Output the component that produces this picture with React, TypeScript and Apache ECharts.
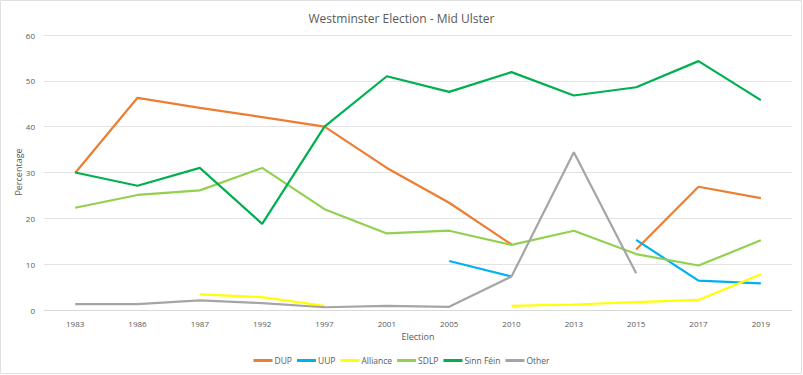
import React, { useEffect, useRef } from "react";
import * as echarts from "echarts";

const years = ["1983", "1986", "1987", "1992", "1997", "2001", "2005", "2010", "2013", "2015", "2017", "2019"];
const dup = [29.9, 46.3, 44.1, 42.1, 40.0, 31.0, 23.4, 14.3, null, 13.2, 26.9, 24.4];
const uup = [null, null, null, null, null, null, 10.7, 7.3, null, 15.3, 6.4, 5.8];
const alliance = [null, null, 3.4, 2.8, 0.9, null, null, 0.9, 1.2, 1.7, 2.2, 7.8];
const sdlp = [22.3, 25.1, 26.1, 31.0, 22.0, 16.7, 17.3, 14.2, 17.3, 12.2, 9.7, 15.2];
const sinnFein = [30.0, 27.1, 31.0, 18.8, 40.0, 51.0, 47.6, 51.9, 46.8, 48.6, 54.3, 45.8];
const other = [1.3, 1.3, 2.1, 1.5, 0.6, 0.9, 0.7, 7.3, 34.4, 8.0, null, null];

const seriesDefs = [
  { name: "DUP", data: dup, color: "#ED7D31" },
  { name: "UUP", data: uup, color: "#00B0F0" },
  { name: "Alliance", data: alliance, color: "#FFFF00" },
  { name: "SDLP", data: sdlp, color: "#92D050" },
  { name: "Sinn Féin", data: sinnFein, color: "#00B050" },
  { name: "Other", data: other, color: "#A5A5A5" },
];

export default function App() {
  const ref = useRef<HTMLDivElement>(null);
  useEffect(() => {
    if (!ref.current) return;
    const chart = echarts.init(ref.current, null, { renderer: "svg" });
    const font = "Open Sans";
    chart.setOption({
      animation: false,
      backgroundColor: "#ffffff",
      textStyle: { fontFamily: font },
      title: {
        text: "Westminster Election - Mid Ulster",
        left: "center",
        top: 7,
        textStyle: { fontFamily: font, fontSize: 12, fontWeight: "normal", color: "#595959" },
      },
      graphic: [
        {
          type: "rect",
          shape: { x: 0.5, y: 0.5, width: 801, height: 373 },
          style: { fill: "none", stroke: "#e0e0e0", lineWidth: 1 },
          silent: true,
        },
        {
          type: "text",
          x: 18,
          y: 172,
          rotation: Math.PI / 2,
          style: {
            text: "Percentage",
            fontFamily: font,
            fontSize: 9,
            fill: "#595959",
            align: "center",
            verticalAlign: "middle",
          },
          silent: true,
        },
      ],
      legend: {
        bottom: 5,
        left: "center",
        itemWidth: 19,
        itemHeight: 3,
        itemGap: 5,
        icon: "rect",
        textStyle: { fontFamily: font, fontSize: 8.5, color: "#595959", padding: [0, 0, 0, -3] },
        data: seriesDefs.map((s) => s.name),
      },
      grid: { left: 44, right: 11, top: 35, bottom: 65, containLabel: false },
      xAxis: {
        type: "category",
        data: years,
        boundaryGap: true,
        name: "Election",
        nameLocation: "middle",
        nameGap: 21,
        nameTextStyle: { fontFamily: font, fontSize: 9, color: "#595959" },
        axisLine: { lineStyle: { color: "#d9d9d9" } },
        axisTick: { show: false },
        axisLabel: { fontFamily: font, fontSize: 8, color: "#595959", margin: 9 },
      },
      yAxis: {
        type: "value",
        min: 0,
        max: 60,
        interval: 10,
        axisLine: { show: false },
        axisTick: { show: false },
        axisLabel: { fontFamily: font, fontSize: 8, color: "#595959", margin: 9 },
        splitLine: { lineStyle: { color: "#e3e3e3", width: 1 } },
      },
      series: seriesDefs.map((s) => ({
        name: s.name,
        type: "line",
        data: s.data,
        showSymbol: false,
        symbol: "none",
        connectNulls: false,
        color: s.color,
        lineStyle: { color: s.color, width: 2.2 },
        itemStyle: { color: s.color },
      })),
    });
    return () => chart.dispose();
  }, []);
  return <div ref={ref} style={{ position: "fixed", left: 0, top: 0, width: 803, height: 375 }} />;
}
